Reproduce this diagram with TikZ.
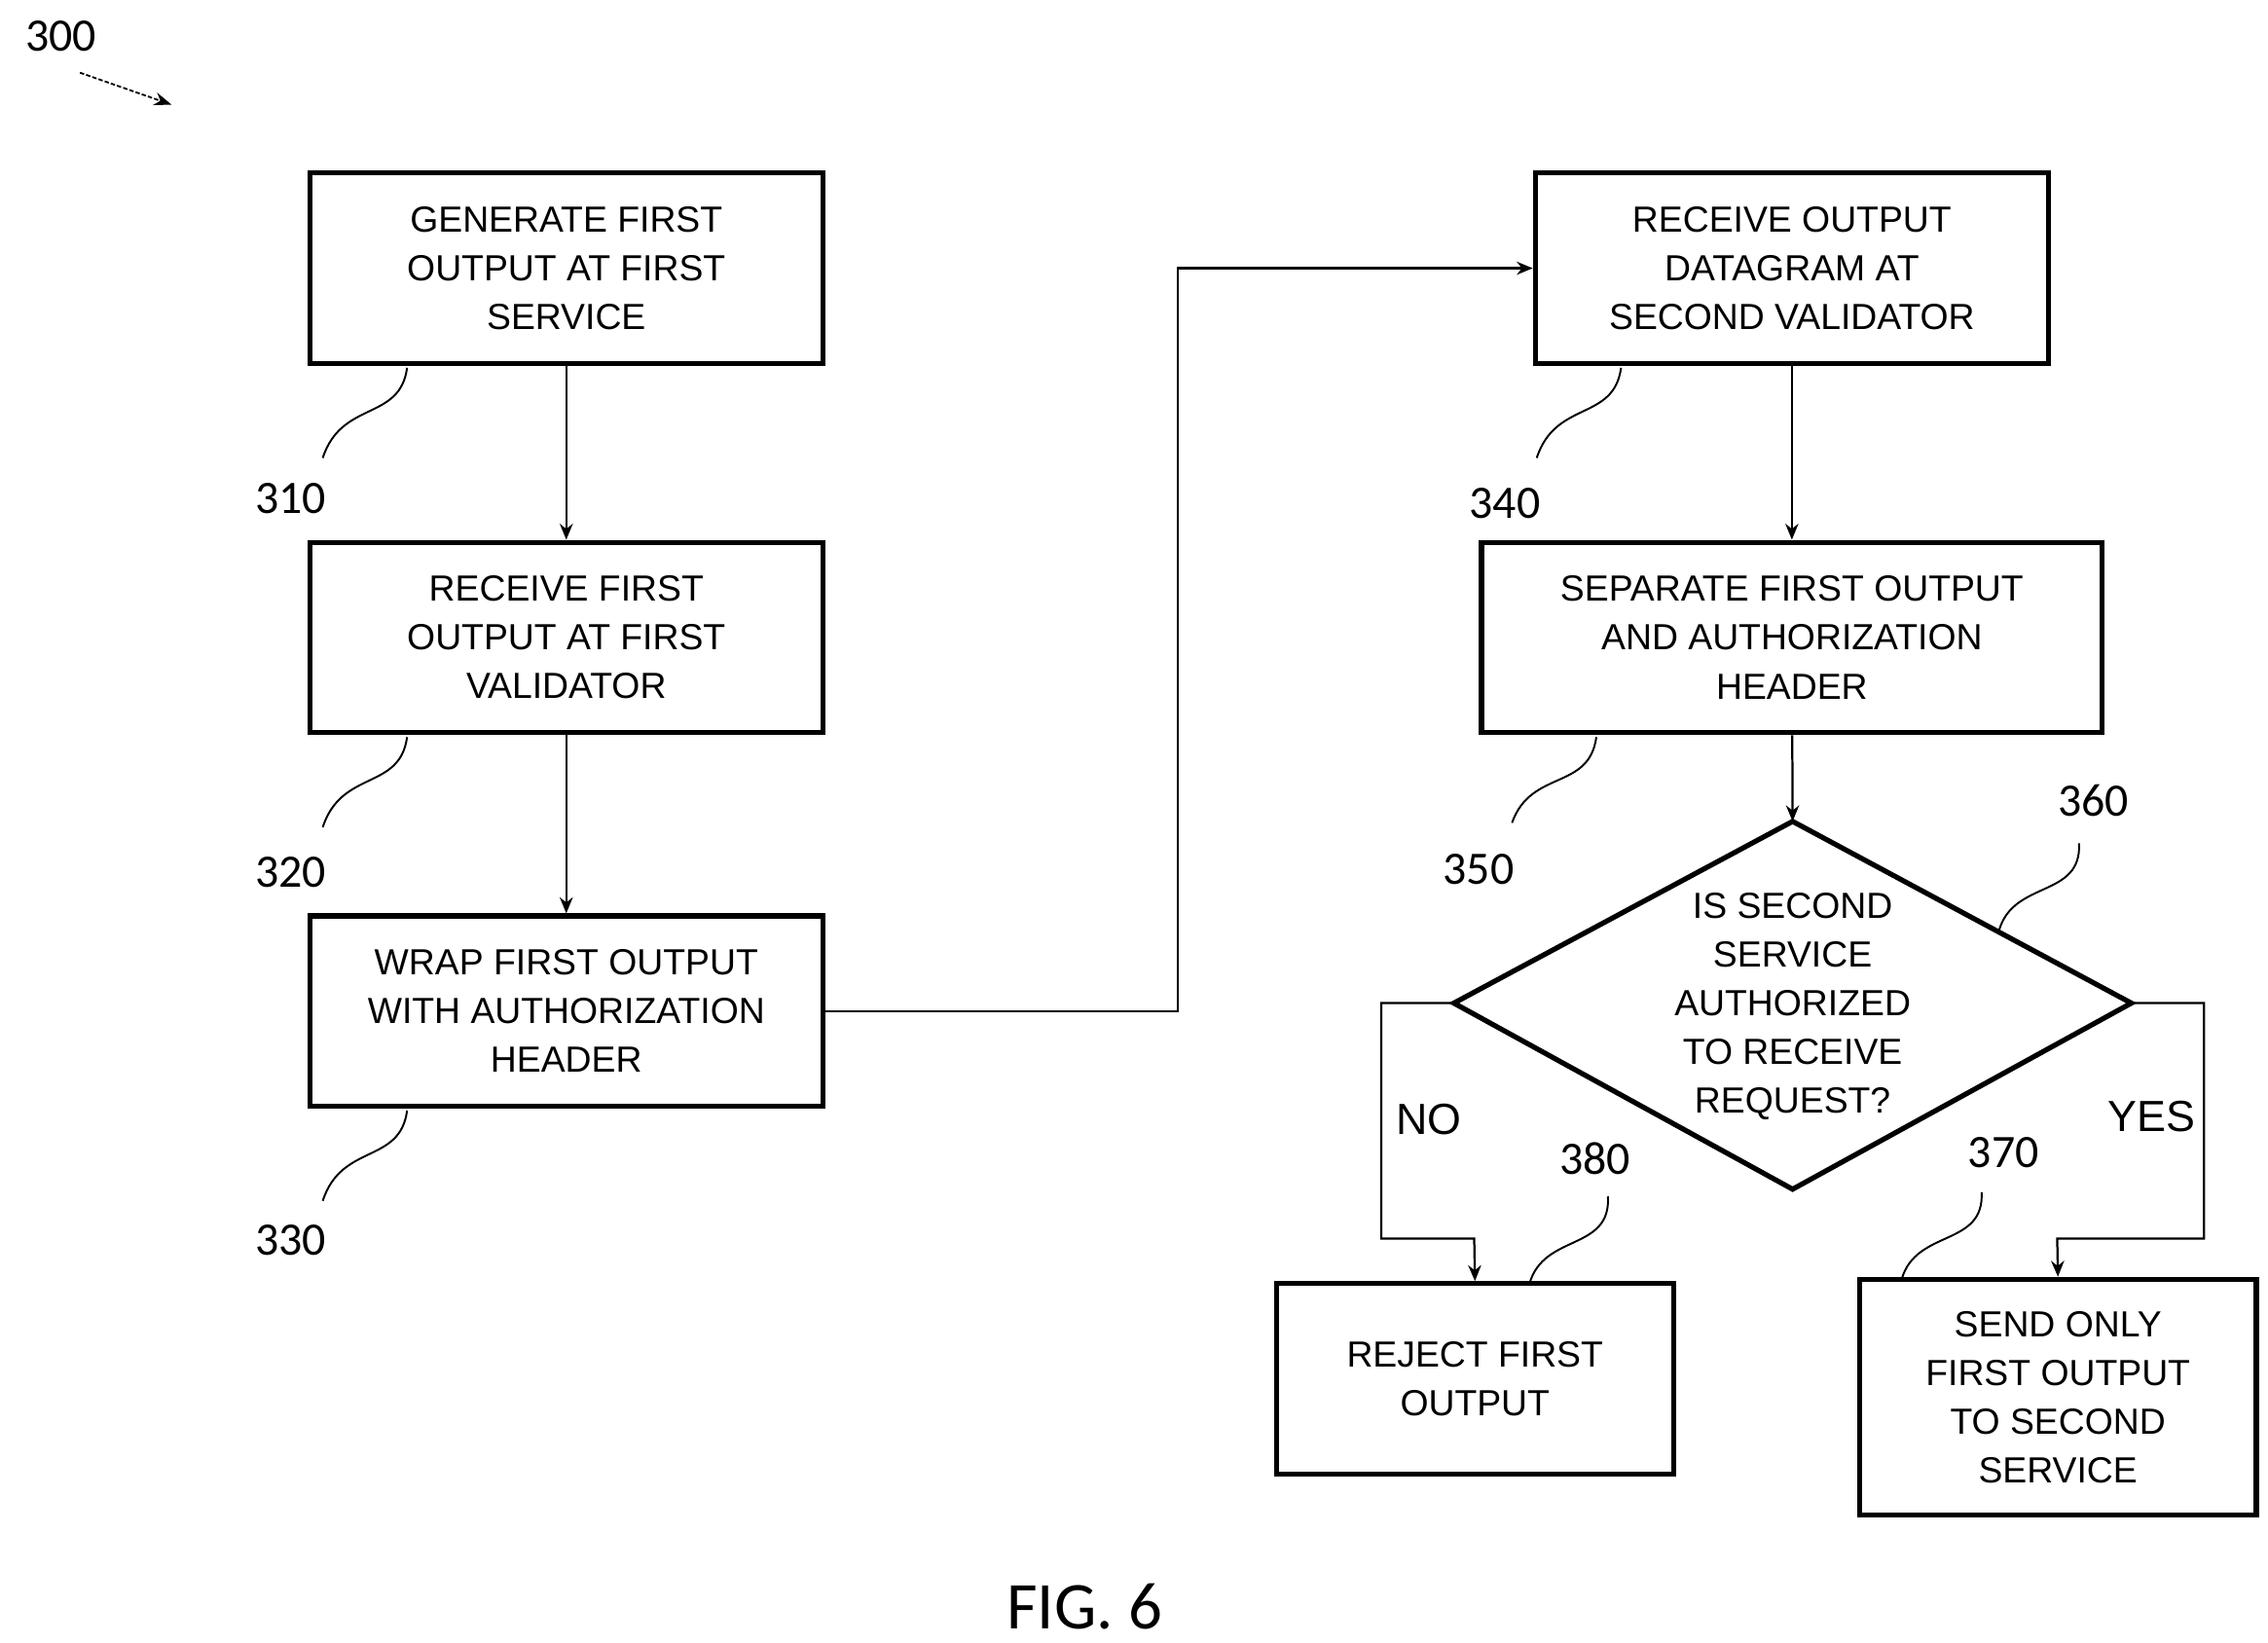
\documentclass[tikz,border=0pt]{standalone}
\usepackage{fontspec}
\setmainfont{Liberation Sans}
\newfontfamily\numfont{Carlito}
\usetikzlibrary{arrows.meta,shapes.geometric}
\begin{document}
\begin{tikzpicture}[x=1pt,y=-1pt,
 box/.style={draw,line width=3.5pt,align=center,font=\fontsize{25}{33.5}\selectfont,inner sep=0pt},
 lab/.style={font=\numfont\fontsize{32}{36}\selectfont},
 conn/.style={line width=1.5pt,-{Stealth[length=11pt,width=9pt]}},
 sq/.style={line width=1.3pt}]
\useasboundingbox (0,0) rectangle (1560,1130);
\node[box,minimum width=353pt,minimum height=131pt] (b310) at (389.5,184.5) {GENERATE FIRST\\OUTPUT AT FIRST\\SERVICE};
\node[box,minimum width=353pt,minimum height=131pt] (b320) at (389.5,438.5) {RECEIVE FIRST\\OUTPUT AT FIRST\\VALIDATOR};
\node[box,minimum width=353pt,minimum height=131pt] (b330) at (389.5,695.5) {WRAP FIRST OUTPUT\\WITH AUTHORIZATION\\HEADER};
\node[box,minimum width=353pt,minimum height=131pt] (b340) at (1232.5,184.5) {RECEIVE OUTPUT\\DATAGRAM AT\\SECOND VALIDATOR};
\node[box,minimum width=427pt,minimum height=131pt] (b350) at (1232.5,438.5) {SEPARATE FIRST OUTPUT\\AND AUTHORIZATION\\HEADER};
\node[box,minimum width=273pt,minimum height=131pt] (b380) at (1014.5,948.5) {REJECT FIRST\\OUTPUT};
\node[box,minimum width=273pt,minimum height=162pt] (b370) at (1415.5,961) {SEND ONLY\\FIRST OUTPUT\\TO SECOND\\SERVICE};
\coordinate (dt) at (1233,565); \coordinate (db) at (1233,818);
\coordinate (dl) at (1000,690); \coordinate (dr) at (1466,690);
\draw[line width=3.5pt,line join=miter] (dt)--(dr)--(db)--(dl)--cycle;
\node[align=center,font=\fontsize{25}{33.5}\selectfont] (d360) at (1233,692) {IS SECOND\\SERVICE\\AUTHORIZED\\TO RECEIVE\\REQUEST?};
\draw[conn] (b310) -- (b320);
\draw[conn] (b320) -- (b330);
\draw[conn] (b330.east) -- (810,695.5) -- (810,184.5) -- (b340.west);
\draw[conn] (b340) -- (b350);
\draw[conn] (b350) -- (dt);
\draw[conn] (dl) -- (950,690) -- (950,852) -- (1014,852) -- (b380.north);
\draw[conn] (dr) -- (1516,690) -- (1516,852) -- (1415,852) -- (b370.north);
\node[font=\fontsize{30}{34}\selectfont] (no) at (983,770) {NO};
\node[font=\fontsize{30}{34}\selectfont] (yes) at (1480,768) {YES};
\node[lab] (l310) at (200,343) {310};
\node[lab] (l320) at (200,600) {320};
\node[lab] (l330) at (200,853) {330};
\node[lab] (l340) at (1035,346) {340};
\node[lab] (l350) at (1017,598) {350};
\node[lab] (l360) at (1440,551) {360};
\node[lab] (l370) at (1378,793) {370};
\node[lab] (l380) at (1097,797) {380};
\node[lab] (l300) at (42,25) {300};
\draw[sq] (280,253) .. controls (275,290) and (235,275) .. (222,315);
\draw[sq] (280,507) .. controls (275,544) and (235,529) .. (222,569);
\draw[sq] (280,764) .. controls (275,801) and (235,786) .. (222,826);
\draw[sq] (1115,253) .. controls (1110,290) and (1070,275) .. (1057,315);
\draw[sq] (1098,507) .. controls (1093,544) and (1053,529) .. (1040,566);
\draw[sq] (1375,640) .. controls (1385,605) and (1432,618) .. (1430,580);
\draw[sq] (1308,880) .. controls (1318,845) and (1365,858) .. (1363,820);
\draw[sq] (1052,883) .. controls (1062,848) and (1108,861) .. (1106,823);
\draw[line width=1.2pt,dashed,dash pattern=on 3pt off 1.5pt,-{Stealth[length=12pt,width=9pt]}] (55,50) -- (118,72);
\node[font=\numfont\fontsize{46}{50}\selectfont] (fig) at (746,1105) {FIG. 6};
\end{tikzpicture}
\end{document}
